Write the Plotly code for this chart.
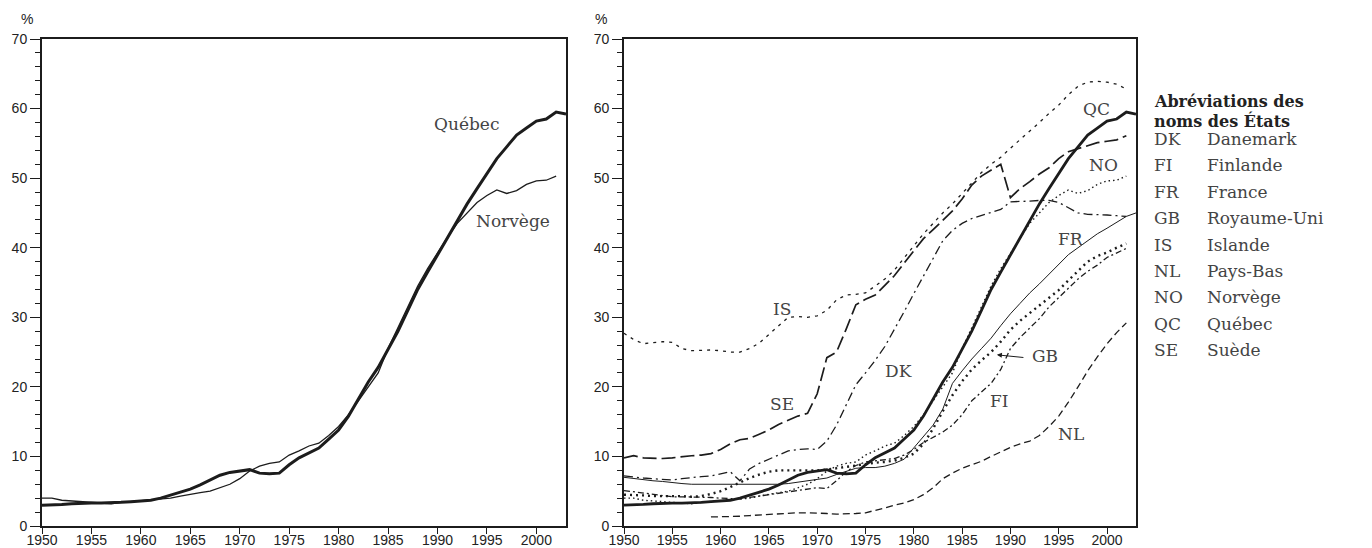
import plotly.graph_objects as go

# ---------------- data ----------------
years_qc = list(range(1950, 2004))
quebec = [3.0, 3.0, 3.1, 3.2, 3.3, 3.3, 3.3, 3.3, 3.4, 3.5,
          3.6, 3.7, 4.0, 4.4, 4.8, 5.3, 5.9, 6.6, 7.3, 7.7,
          7.9, 8.1, 7.6, 7.5, 7.6, 8.8, 9.8, 10.5, 11.2, 12.5,
          13.8, 15.8, 18.3, 20.7, 22.8, 25.5, 28.0, 31.0, 34.0, 36.5,
          39.0, 41.5, 43.8, 46.3, 48.5, 50.7, 52.8, 54.5, 56.2, 57.2,
          58.2, 58.5, 59.5, 59.2]

years_std = list(range(1950, 2003))
norvege = [4.0, 4.0, 3.7, 3.6, 3.5, 3.4, 3.3, 3.2, 3.4, 3.5,
           3.6, 3.7, 3.9, 4.0, 4.3, 4.6, 4.8, 5.0, 5.5, 6.0,
           6.8, 7.9, 8.6, 9.0, 9.2, 10.2, 10.8, 11.5, 11.9, 13.0,
           14.3, 16.0, 18.0, 20.0, 22.0, 25.5, 28.5, 31.5, 34.5, 37.0,
           39.2, 41.5, 43.5, 45.0, 46.5, 47.5, 48.3, 47.8, 48.2, 49.1,
           49.6, 49.7, 50.3]

islande = [27.7, 26.8, 26.2, 26.3, 26.5, 26.4, 25.5, 25.2, 25.3, 25.3,
           25.2, 25.0, 25.0, 25.5, 26.3, 27.5, 28.7, 30.0, 30.1, 30.0,
           30.2, 31.0, 32.5, 33.2, 33.3, 33.5, 34.5, 35.5, 36.8, 38.5,
           40.3, 42.0, 43.5, 45.0, 46.3, 47.8, 49.3, 50.8, 52.0, 53.0,
           54.3, 55.5, 56.8, 58.0, 59.3, 60.5, 62.0, 63.2, 63.8, 63.9,
           63.8, 63.5, 62.8]

suede = [9.8, 10.1, 9.8, 9.7, 9.7, 9.8, 10.0, 10.1, 10.2, 10.4,
         11.0, 11.8, 12.4, 12.6, 13.2, 13.8, 14.6, 15.2, 15.8, 16.2,
         19.0, 24.2, 25.0, 28.3, 31.8, 32.6, 33.2, 34.6, 36.0, 37.8,
         39.6, 41.3, 42.6, 44.0, 45.3, 47.0, 49.0, 50.3, 51.2, 52.0,
         47.2, 48.5, 49.5, 50.6, 51.5, 52.8, 53.8, 54.2, 54.6, 55.1,
         55.3, 55.5, 56.1]

danemark = [7.2, 7.0, 6.9, 6.8, 6.7, 6.6, 6.8, 7.0, 7.1, 7.2,
            7.5, 7.8, 6.5, 8.2, 9.0, 9.6, 10.2, 10.8, 11.0, 11.1,
            11.0, 12.2, 14.5, 17.5, 20.3, 22.0, 23.8, 25.8, 28.2, 30.8,
            33.4, 36.0, 38.5, 41.0, 42.5, 43.5, 44.2, 44.6, 45.0, 45.5,
            46.6, 46.6, 46.7, 46.8, 46.8, 46.5, 45.8, 45.0, 44.8, 44.8,
            44.7, 44.6, 44.5]

years_fr = list(range(1950, 2004))
france = [7.0, 6.8, 6.7, 6.5, 6.4, 6.2, 6.1, 6.0, 6.0, 6.0,
          5.9, 5.9, 5.9, 5.9, 5.9, 5.9, 6.0, 6.1, 6.3, 6.5,
          6.7, 6.9, 7.4, 7.9, 8.3, 8.4, 8.4, 8.6, 9.0, 9.6,
          11.2, 12.8, 14.5, 16.8, 20.5, 22.3, 24.0, 25.5, 27.0, 28.8,
          30.5, 32.0, 33.5, 34.8, 36.2, 37.5, 39.0, 40.0, 41.0, 42.0,
          42.8, 43.7, 44.5, 45.0]

royaume_uni = [4.5, 4.5, 4.4, 4.3, 4.3, 4.4, 4.3, 4.2, 4.3, 4.6,
               5.0, 5.6, 6.3, 6.9, 7.4, 7.8, 8.0, 8.0, 7.9, 7.9,
               8.0, 8.1, 8.3, 8.5, 8.8, 9.0, 9.1, 9.2, 9.4, 9.8,
               10.4, 11.8, 14.0, 16.5, 18.8, 20.8, 22.5, 23.8, 25.0, 26.5,
               28.2, 29.5, 30.6, 31.7, 32.8, 33.9, 35.3, 36.7, 38.0, 38.8,
               39.3, 40.0, 40.6]

finlande = [5.1, 4.9, 4.7, 4.5, 4.3, 4.2, 4.2, 4.2, 4.2, 4.1,
            4.0, 3.9, 3.9, 4.1, 4.3, 4.5, 4.7, 4.9, 5.1, 5.3,
            5.5, 5.4, 6.5, 7.8, 8.7, 9.2, 9.4, 9.5, 9.7, 10.2,
            11.0, 12.0, 12.8, 13.5, 14.5, 16.0, 18.0, 19.3, 20.5, 22.5,
            25.5, 27.1, 28.5, 29.8, 31.5, 32.8, 34.2, 35.5, 36.6, 37.5,
            38.6, 39.3, 39.9]

years_nl = list(range(1959, 2003))
pays_bas = [1.3, 1.3, 1.3, 1.4, 1.5, 1.6, 1.7, 1.8, 1.9, 1.9,
            1.9, 1.9, 1.8, 1.7, 1.7, 1.8, 1.9, 2.2, 2.6, 3.0,
            3.3, 3.8, 4.5, 5.5, 6.8, 7.6, 8.3, 8.8, 9.3, 10.0,
            10.7, 11.3, 11.8, 12.2, 13.0, 14.3, 15.8, 17.8, 20.0, 22.3,
            24.3, 26.2, 27.8, 29.2]

x_ticks = [1950, 1955, 1960, 1965, 1970, 1975, 1980, 1985, 1990, 1995, 2000]
x_tick_labels = ["1950", "1955", "1960", "1965", "1970", "1975", "1980",
                 "1985", "1990", "1995", "2000"]
y_ticks = [0, 10, 20, 30, 40, 50, 60, 70]

legend_codes = ["DK", "FI", "FR", "GB", "IS", "NL", "NO", "QC", "SE"]
legend_names = ["Danemark", "Finlande", "France", "Royaume-Uni", "Islande",
                "Pays-Bas", "Norvège", "Québec", "Suède"]

# ---------------- styles ----------------
INK = "#1c1c1c"
LABEL = "#444444"
SERIF = "DejaVu Serif"
SANS = "Liberation Sans, Arial, sans-serif"

fig = go.Figure()

def add(x, y, xa, ya, width, dash):
    fig.add_trace(go.Scatter(x=x, y=y, xaxis=xa, yaxis=ya, mode="lines",
                             line=dict(color=INK, width=width, dash=dash),
                             hoverinfo="skip"))

# left panel
add(years_std, norvege, "x", "y", 1.3, "solid")
add(years_qc, quebec, "x", "y", 3.0, "solid")

# right panel
add(years_nl, pays_bas, "x2", "y2", 1.3, "7px,4px")
add(years_std, islande, "x2", "y2", 1.3, "3px,5px")
add(years_std, suede, "x2", "y2", 1.7, "14px,5px")
add(years_std, danemark, "x2", "y2", 1.3, "9px,4px,2px,4px")
add(years_std, finlande, "x2", "y2", 1.3, "6px,3px,2px,3px")
add(years_fr, france, "x2", "y2", 1.0, "solid")
add(years_std, royaume_uni, "x2", "y2", 2.4, "2px,4px")
add(years_std, norvege, "x2", "y2", 1.4, "1.5px,3px")
add(years_qc, quebec, "x2", "y2", 2.8, "solid")

xcommon = dict(range=[1950, 2003], tickmode="array", tickvals=x_ticks,
               ticktext=x_tick_labels, ticks="outside", ticklen=6, tickwidth=1,
               tickcolor=INK, showline=True, linewidth=2, linecolor=INK,
               mirror=True, showgrid=False, zeroline=False, automargin=False,
               ticklabelstandoff=-6,
               tickfont=dict(family=SANS, size=14, color="#222"))
ycommon = dict(range=[0, 70], tickmode="array", tickvals=y_ticks,
               ticks="outside", ticklen=10, tickwidth=1, tickcolor=INK,
               minor=dict(dtick=2, tick0=0, ticks="outside", ticklen=5,
                          tickwidth=1, tickcolor=INK),
               showline=True, linewidth=2, linecolor=INK, mirror=True,
               showgrid=False, zeroline=False, automargin=False,
               tickfont=dict(family=SANS, size=14, color="#222"))

# figure sized so that page (with 8px body margin) fits the window
fig.update_layout(
    width=1356, height=540,
    margin=dict(l=34, r=228, t=31, b=22),
    paper_bgcolor="white", plot_bgcolor="white",
    showlegend=False,
    xaxis=dict(domain=[0, 0.479], anchor="y", **xcommon),
    yaxis=dict(domain=[0, 1], anchor="x", **ycommon),
    xaxis2=dict(domain=[0.532, 1], anchor="y2", **xcommon),
    yaxis2=dict(domain=[0, 1], anchor="x2", **ycommon),
)

ppx = lambda px: (px - 42) / 1094
ppy = lambda py: (526 - py) / 487

anns = []
# % labels
anns.append(dict(text="%", xref="paper", yref="paper", x=ppx(19), y=ppy(19),
                 yanchor="middle", showarrow=False,
                 font=dict(family=SANS, size=14, color="#222")))
anns.append(dict(text="%", xref="paper", yref="paper", x=ppx(601), y=ppy(19),
                 yanchor="middle", showarrow=False,
                 font=dict(family=SANS, size=14, color="#222")))

lab_font = dict(family=SERIF, size=17, color=LABEL)
# left panel labels
anns.append(dict(text="Québec", xref="x", yref="y", x=1992.9, y=57.8,
                 showarrow=False, font=lab_font))
anns.append(dict(text="Norvège", xref="x", yref="y", x=1997.6, y=43.9,
                 showarrow=False, font=lab_font))
# right panel labels
for t, xx, yy in [("IS", 1966.4, 31.2), ("SE", 1966.4, 17.5), ("DK", 1978.4, 22.3),
                  ("FI", 1988.9, 18.0), ("GB", 1993.6, 24.5), ("FR", 1996.3, 41.3),
                  ("NL", 1996.3, 13.2), ("QC", 1998.9, 60.0), ("NO", 1999.6, 51.9)]:
    anns.append(dict(text=t, xref="x2", yref="y2", x=xx, y=yy,
                     showarrow=False, font=lab_font))
# arrow GB
anns.append(dict(text="", xref="x2", yref="y2", x=1988.6, y=24.6,
                 axref="x2", ayref="y2", ax=1991.5, ay=24.2,
                 showarrow=True, arrowhead=2, arrowsize=1, arrowwidth=1,
                 arrowcolor=INK))

# abbreviation legend
anns.append(dict(text="<b>Abréviations des</b>", xref="paper", yref="paper",
                 x=ppx(1152), y=ppy(102), xanchor="left", yanchor="middle",
                 showarrow=False, font=dict(family=SERIF, size=16, color="#222")))
anns.append(dict(text="<b>noms des États</b>", xref="paper", yref="paper",
                 x=ppx(1152), y=ppy(121), xanchor="left", yanchor="middle",
                 showarrow=False, font=dict(family=SERIF, size=16, color="#222")))
for i, (c, n) in enumerate(zip(legend_codes, legend_names)):
    yy = 139 + i * 26.4
    anns.append(dict(text=c, xref="paper", yref="paper", x=ppx(1152), y=ppy(yy),
                     xanchor="left", yanchor="middle", showarrow=False,
                     font=dict(family=SERIF, size=17, color=LABEL)))
    anns.append(dict(text=n, xref="paper", yref="paper", x=ppx(1205), y=ppy(yy),
                     xanchor="left", yanchor="middle", showarrow=False,
                     font=dict(family=SERIF, size=17, color=LABEL)))

fig.update_layout(annotations=anns)
fig.write_html("out.html")
